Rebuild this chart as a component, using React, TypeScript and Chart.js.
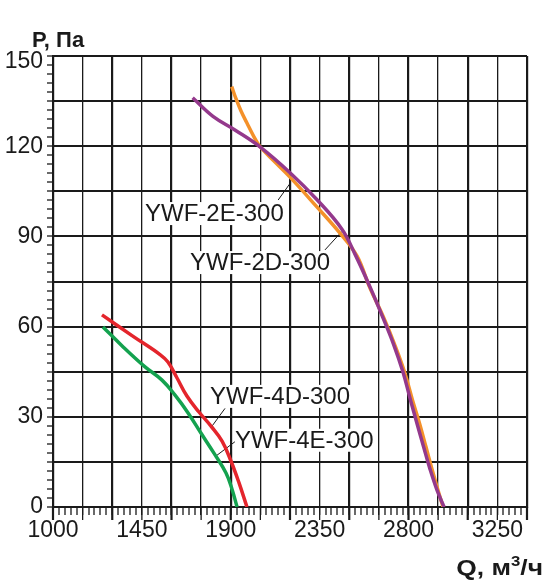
import { useEffect, useRef } from 'react'
import { Chart, registerables, type Plugin } from 'chart.js'

Chart.register(...registerables)

const INK = '#1a1a1a'
const PURPLE = '#94398c'
const ORANGE = '#f4912a'
const RED = '#e4252c'
const GREEN = '#14a24f'
const FONT = "'Liberation Sans', Arial, sans-serif"

// axis ranges, Q in m3/h, P in Pa
const Q_MIN = 1000
const Q_MAX = 3400
const P_MIN = 0
const P_MAX = 150

// YWF-2E-300
const q2E = [1707, 1810, 1921, 2048, 2200, 2337, 2463, 2529, 2605, 2671, 2724, 2772, 2810, 2843, 2876, 2909, 2944, 2980]
const p2E = [136.1, 129.9, 125.4, 119.8, 111.2, 102.2, 92.4, 84.1, 73.2, 62.9, 54.2, 44.9, 35.6, 27.8, 20.1, 12.6, 5.7, 0]

// YWF-2D-300
const q2D = [1905, 1927, 1952, 1982, 2013, 2048, 2124, 2200, 2335, 2453, 2539, 2605, 2673, 2729, 2780, 2820, 2856, 2888, 2919, 2949, 2975]
const p2D = [139.8, 135.7, 131.7, 127.7, 123.7, 119.9, 114.7, 109.7, 99.9, 91.1, 83.5, 72.8, 63.2, 54.2, 44.9, 35.6, 27.8, 20.1, 12.6, 5.7, 0]

// YWF-4D-300
const q4D = [1248, 1400, 1542, 1582, 1628, 1678, 1739, 1800, 1856, 1901, 1942, 1982]
const p4D = [63.9, 57.0, 50.7, 48.2, 42.9, 36.9, 31.6, 26.9, 21.9, 15.3, 8.0, 0]

// YWF-4E-300
const q4E = [1253, 1359, 1466, 1552, 1618, 1684, 1749, 1815, 1876, 1906, 1932]
const p4E = [59.9, 53.0, 46.6, 42.2, 37.2, 31.3, 24.6, 17.9, 11.3, 6.0, 0]

const series = [
  { label: 'YWF-2E-300', q: q2E, p: p2E, color: PURPLE },
  { label: 'YWF-2D-300', q: q2D, p: p2D, color: ORANGE },
  { label: 'YWF-4D-300', q: q4D, p: p4D, color: RED },
  { label: 'YWF-4E-300', q: q4E, p: p4E, color: GREEN },
]

// curve captions: text left/baseline and leader line, all in data units
const callouts = [
  { text: 'YWF-2E-300', at: [1466, 95.1], from: [2140, 102.1], to: [2200, 107.6] },
  { text: 'YWF-2D-300', at: [1694, 78.8], from: [2377, 85.5], to: [2462, 91.6] },
  { text: 'YWF-4D-300', at: [1795, 34.3], from: [1803, 26.7], to: [1871, 32.8] },
  { text: 'YWF-4E-300', at: [1921, 19.7], from: [1820, 16.7], to: [1921, 21.7] },
]

const near = (v: number, step: number) => Math.abs(Math.round(v / step) * step - v) < 1e-6

const captionPlugin: Plugin<'line'> = {
  id: 'captions',
  beforeDatasetsDraw(chart) {
    const { ctx, scales: { x, y } } = chart
    ctx.save()
    ctx.font = `24px ${FONT}`
    ctx.textBaseline = 'alphabetic'
    ctx.textAlign = 'left'
    for (const c of callouts) {
      const tx = x.getPixelForValue(c.at[0])
      const ty = y.getPixelForValue(c.at[1])
      const w = ctx.measureText(c.text).width
      ctx.fillStyle = '#fff'
      ctx.fillRect(tx - 2, ty - 19, w + 4, 23)
      ctx.fillStyle = INK
      ctx.fillText(c.text, tx, ty)
      ctx.strokeStyle = INK
      ctx.lineWidth = 1
      ctx.beginPath()
      ctx.moveTo(x.getPixelForValue(c.from[0]), y.getPixelForValue(c.from[1]))
      ctx.lineTo(x.getPixelForValue(c.to[0]), y.getPixelForValue(c.to[1]))
      ctx.stroke()
    }
    ctx.restore()
  },
}

const framePlugin: Plugin<'line'> = {
  id: 'frame',
  afterDraw(chart) {
    const { ctx, chartArea, scales: { x, y } } = chart
    ctx.save()
    // long ticks under the major Q grid lines
    ctx.strokeStyle = INK
    for (let q = Q_MIN; q <= Q_MAX; q += 150) {
      const px = x.getPixelForValue(q)
      ctx.lineWidth = near(q - Q_MIN, 300) ? 2.2 : 1.3
      ctx.beginPath()
      ctx.moveTo(px, chartArea.bottom)
      ctx.lineTo(px, chartArea.bottom + 13)
      ctx.stroke()
    }
    // top P label sits a little lower than its grid line
    ctx.fillStyle = INK
    ctx.font = `23px ${FONT}`
    ctx.textAlign = 'right'
    ctx.textBaseline = 'middle'
    ctx.fillText(String(P_MAX), chartArea.left - 10, y.getPixelForValue(P_MAX) + 6)

    // axis titles
    ctx.textBaseline = 'alphabetic'
    ctx.font = `bold 22px ${FONT}`
    ctx.textAlign = 'left'
    ctx.fillText('P, Па', 32, 47)

    ctx.translate(543, 575)
    ctx.scale(1.2, 1)
    const big = `bold 22px ${FONT}`
    const small = `bold 14px ${FONT}`
    ctx.font = big
    const w1 = ctx.measureText('Q, м').width
    const w3 = ctx.measureText('/ч').width
    ctx.font = small
    const w2 = ctx.measureText('3').width
    let cx = -(w1 + w2 + w3)
    ctx.font = big
    ctx.fillText('Q, м', cx, 0)
    cx += w1
    ctx.font = small
    ctx.fillText('3', cx, -9)
    cx += w2
    ctx.font = big
    ctx.fillText('/ч', cx, 0)
    ctx.restore()
  },
}

export default function App() {
  const canvasRef = useRef<HTMLCanvasElement>(null)

  useEffect(() => {
    const canvas = canvasRef.current
    if (!canvas) return
    Chart.getChart(canvas)?.destroy()

    const chart = new Chart(canvas, {
      type: 'line',
      data: {
        datasets: series.map((s) => ({
          label: s.label,
          data: s.q.map((q, i) => ({ x: q, y: s.p[i] })),
          borderColor: s.color,
          backgroundColor: s.color,
          borderWidth: 3.5,
          pointRadius: 0,
          fill: false,
          tension: 0.4,
        })),
      },
      options: {
        animation: false,
        responsive: true,
        maintainAspectRatio: false,
        layout: { padding: { top: 56, right: 22, left: 0, bottom: 0 } },
        plugins: {
          legend: { display: false },
          tooltip: { enabled: false },
        },
        scales: {
          x: {
            type: 'linear',
            min: Q_MIN,
            max: Q_MAX,
            afterFit: (s) => { s.height = 77 },
            border: { display: true, color: INK, width: 2 },
            grid: {
              color: (c) => (c.tick && near(c.tick.value - Q_MIN, 150) ? INK : 'rgba(0,0,0,0)'),
              lineWidth: (c) => {
                if (!c.tick) return 0
                const v = c.tick.value - Q_MIN
                return near(v, 300) ? 2.2 : near(v, 150) ? 1.3 : 0
              },
              tickLength: 8,
              tickColor: INK,
              tickWidth: 1.3,
            },
            ticks: {
              stepSize: 30,
              autoSkip: false,
              maxRotation: 0,
              padding: 2,
              color: INK,
              font: { family: FONT, size: 23 },
              callback: (v) => (near(Number(v) - Q_MIN, 450) ? String(Math.round(Number(v))) : ''),
            },
          },
          y: {
            type: 'linear',
            min: P_MIN,
            max: P_MAX,
            afterFit: (s) => { s.width = 53 },
            border: { display: true, color: INK, width: 2 },
            grid: {
              color: (c) => (c.tick && near(c.tick.value, 15) ? INK : 'rgba(0,0,0,0)'),
              lineWidth: (c) => (c.tick && near(c.tick.value, 15) ? 2 : 0),
              tickLength: 6,
              tickColor: INK,
              tickWidth: 1.3,
            },
            ticks: {
              stepSize: 3,
              autoSkip: false,
              padding: 4,
              color: INK,
              font: { family: FONT, size: 23 },
              // 150 is drawn by the frame plugin
              callback: (v) => {
                const n = Number(v)
                return near(n, 30) && n < P_MAX ? String(Math.round(n)) : ''
              },
            },
          },
        },
      },
      plugins: [captionPlugin, framePlugin],
    })

    return () => {
      chart.destroy()
    }
  }, [])

  return (
    <div style={{ position: 'absolute', left: 0, top: 0, width: 549, height: 584, background: '#fff' }}>
      <canvas ref={canvasRef} />
    </div>
  )
}
